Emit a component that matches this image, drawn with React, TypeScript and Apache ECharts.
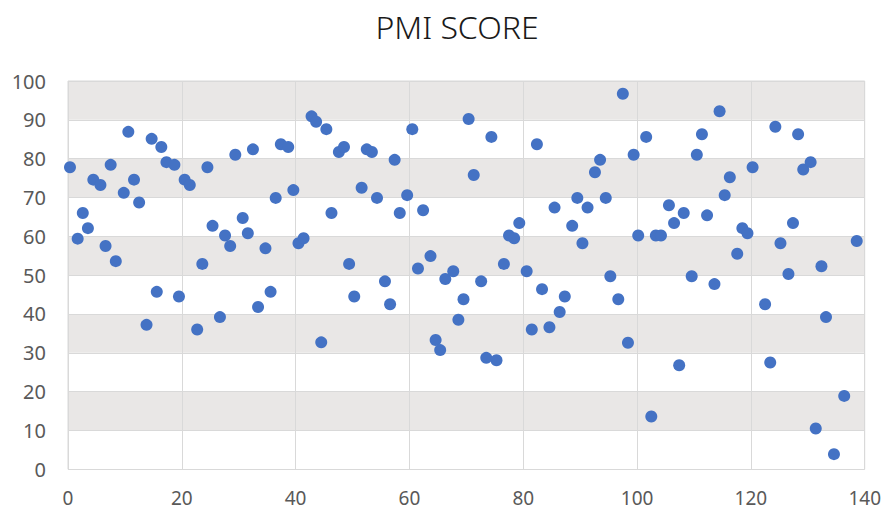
import React, { useEffect, useRef } from "react";
import * as echarts from "echarts";

const xValues = [0.35,1.7,2.6,3.5,4.45,5.7,6.6,7.5,8.4,9.8,10.6,11.6,12.5,13.8,14.7,15.6,16.4,17.3,18.7,19.5,20.5,21.4,22.7,23.6,24.5,25.4,26.7,27.6,
  28.5,29.4,30.7,31.6,32.5,33.4,34.7,35.6,36.5,37.4,38.7,39.6,40.5,41.4,42.8,43.6,44.5,45.4,46.3,47.6,48.5,49.4,50.3,51.6,52.5,53.4,54.3,55.7,56.6,57.4,58.3,59.6,60.5,61.5,62.4,63.7,64.6,65.4,66.3,
  67.7,68.6,69.5,70.4,71.3,72.6,73.5,74.4,75.3,76.6,77.5,78.4,79.3,80.6,81.5,82.4,83.3,84.6,85.5,86.4,87.3,88.6,89.5,90.4,91.3,92.6,93.5,94.5,95.3,96.7,97.5,98.4,99.4,100.2,101.6,102.5,103.3,104.2,
  105.6,106.5,107.4,108.2,109.6,110.5,111.4,112.3,113.6,114.5,115.4,116.3,117.6,118.5,119.4,120.3,122.5,123.4,124.3,125.2,126.6,127.4,128.3,129.2,130.5,131.4,132.4,133.2,134.6,136.4,138.6];

const pmiScores = [77.8,59.4,66.0,62.1,74.6,73.2,57.5,78.4,53.6,71.2,86.9,74.6,68.7,37.2,85.1,45.7,83.0,79.1,78.4,44.5,74.6,73.2,36.0,52.9,77.8,62.7,39.2,60.2,
  57.5,81.0,64.7,60.8,82.4,41.8,56.9,45.7,69.9,83.7,83.0,71.9,58.2,59.5,90.9,89.5,32.7,87.6,66.0,81.7,83.0,52.9,44.5,72.5,82.4,81.7,69.9,48.4,42.5,79.7,66.0,70.6,87.6,51.7,66.7,54.9,33.3,30.7,49.0,
  51.0,38.5,43.8,90.2,75.8,48.4,28.7,85.6,28.1,52.9,60.2,59.5,63.4,51.0,36.0,83.7,46.4,36.6,67.4,40.5,44.5,62.7,69.9,58.2,67.4,76.5,79.7,69.9,49.7,43.8,96.7,32.6,81.0,60.2,85.6,13.6,60.2,60.2,
  68.0,63.4,26.8,66.0,49.7,81.0,86.3,65.4,47.7,92.2,70.6,75.2,55.5,62.1,60.8,77.8,42.5,27.5,88.2,58.2,50.3,63.4,86.3,77.2,79.1,10.5,52.3,39.2,3.9,18.9,58.8];

const title = "PMI SCORE";

export default function App() {
  const ref = useRef<HTMLDivElement>(null);
  useEffect(() => {
    if (!ref.current) return;
    const chart = echarts.init(ref.current, undefined, { renderer: "svg" });
    const data = xValues.map((x, i) => [x, pmiScores[i]]);
    chart.setOption({
      animation: false,
      backgroundColor: "#ffffff",
      graphic: [
        {
          type: "text",
          x: 457,
          y: 26,
          style: {
            text: title,
            align: "center",
            verticalAlign: "middle",
            fontFamily: "Noto Sans",
            fontSize: 32,
            fontWeight: 300,
            fill: "#1a1a1a",
          },
        },
      ],
      grid: {
        left: 68,
        right: 18.5,
        top: 81,
        bottom: 42.7,
        show: true,
        borderColor: "#d9d9d9",
        borderWidth: 1,
      },
      xAxis: {
        type: "value",
        min: 0,
        max: 140,
        interval: 20,
        axisLine: { show: false },
        axisTick: { show: false },
        axisLabel: { fontFamily: "Noto Sans", fontSize: 19, lineHeight: 19, color: "#595959", margin: 19 },
        splitLine: { show: true, lineStyle: { color: "#d9d9d9", width: 1 } },
      },
      yAxis: {
        type: "value",
        min: 0,
        max: 100,
        interval: 10,
        axisLine: { show: false },
        axisTick: { show: false },
        axisLabel: { fontFamily: "Noto Sans", fontSize: 20, lineHeight: 20, color: "#595959", margin: 22 },
        splitLine: { show: true, lineStyle: { color: "#d9d9d9", width: 1 } },
        splitArea: { show: true, areaStyle: { color: ["#ffffff", "#e9e7e6"] } },
      },
      series: [
        {
          type: "scatter",
          data,
          symbol: "circle",
          symbolSize: 12,
          itemStyle: { color: "#4472c4", opacity: 1 },
        },
      ],
    });
    return () => chart.dispose();
  }, []);
  return <div ref={ref} style={{ position: "fixed", left: 0, top: 0, width: 884, height: 512 }} />;
}
